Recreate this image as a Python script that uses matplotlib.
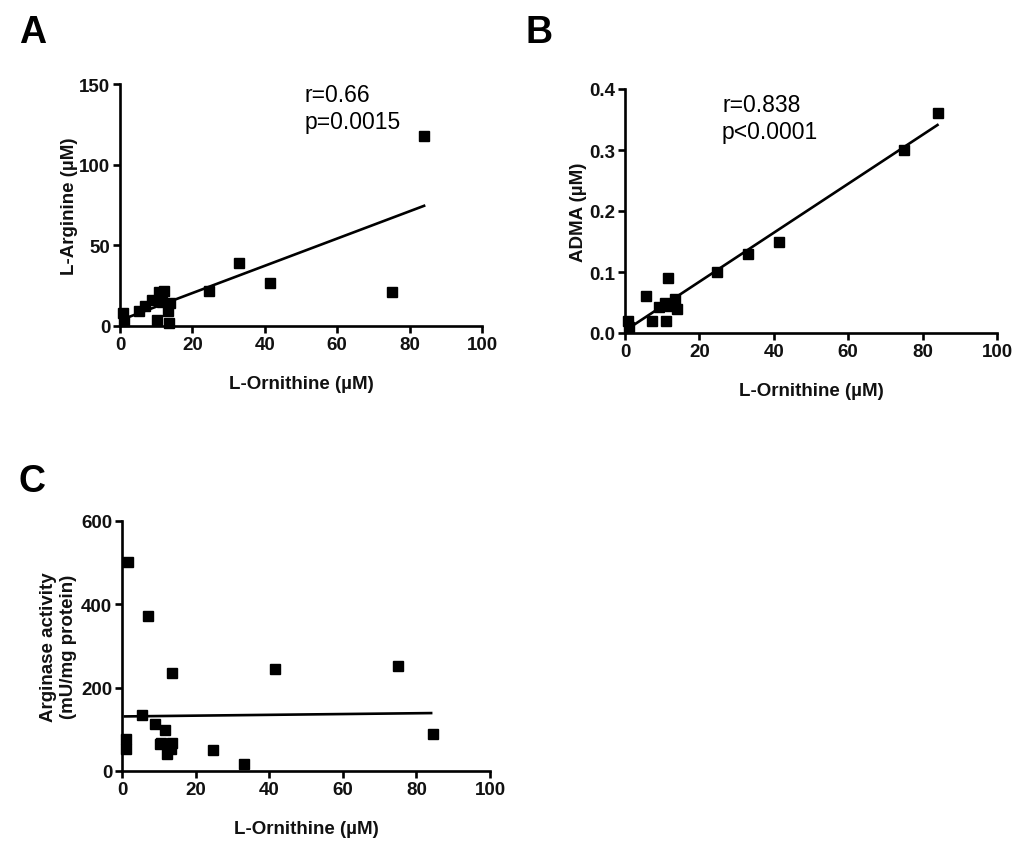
import matplotlib
matplotlib.use("Agg")
import matplotlib.pyplot as plt

plt.rcParams['font.family'] = ['Liberation Sans', 'DejaVu Sans']

# ---- Panel A data: L-Ornithine vs L-Arginine ----
a_orn = [0.8, 1.0, 5.3, 7.0, 8.8, 10.1, 10.9, 11.5, 12.2, 13.2, 13.5, 13.7, 24.5, 32.9, 41.4, 75.0, 84.0]
a_arg = [8.0, 3.0, 9.3, 12.4, 16.1, 3.7, 21.1, 15.0, 21.7, 9.3, 1.7, 14.5, 21.7, 38.9, 26.9, 21.0, 117.7]
a_fit_x = [0.8, 84.0]
a_fit_y = [4.2, 74.5]
a_text = "r=0.66\np=0.0015"

# ---- Panel B data: L-Ornithine vs ADMA ----
b_orn = [0.8, 1.2, 5.6, 7.2, 9.2, 10.7, 11.0, 11.6, 12.0, 13.4, 13.9, 24.6, 33.1, 41.4, 75.0, 84.1]
b_adma = [0.02, 0.01, 0.06, 0.02, 0.042, 0.05, 0.02, 0.09, 0.045, 0.056, 0.04, 0.10, 0.13, 0.15, 0.30, 0.36]
b_fit_x = [0.8, 84.0]
b_fit_y = [0.007, 0.341]
b_text = "r=0.838\np<0.0001"

# ---- Panel C data: L-Ornithine vs Arginase activity ----
c_orn = [1.6, 1.2, 1.2, 5.4, 7.2, 9.0, 10.2, 10.6, 11.7, 12.2, 13.4, 13.5, 13.7, 24.8, 33.1, 41.5, 75.0, 84.6]
c_arg = [502, 78, 54, 134, 373, 112, 64, 68, 98, 40, 52, 67, 235, 51, 16, 245, 252, 88]
c_fit_x = [0.8, 84.0]
c_fit_y = [131, 139]

x_ticks = [0, 20, 40, 60, 80, 100]

W, H = 1024, 854
fig = plt.figure(figsize=(W / 100, H / 100), dpi=100)
fig.patch.set_facecolor('white')

FS = 13.5


def make_axes(l, r, t, b):
    return fig.add_axes([l / W, 1 - b / H, (r - l) / W, (b - t) / H])


def style(ax, xlabel, ylabel, yticks, ylim, yfmt, ylpad):
    for s in ['top', 'right']:
        ax.spines[s].set_visible(False)
    for s in ['left', 'bottom']:
        ax.spines[s].set_linewidth(1.9)
        ax.spines[s].set_color('black')
    ax.set_xlim(0, 100)
    ax.set_ylim(*ylim)
    ax.set_xticks(x_ticks)
    ax.set_xticklabels([str(v) for v in x_ticks])
    ax.set_yticks(yticks)
    ax.set_yticklabels([yfmt(v) for v in yticks])
    ax.tick_params(axis='both', direction='out', length=5, width=1.9,
                   labelsize=FS, pad=2, labelcolor='#111111')
    for lab in ax.get_xticklabels() + ax.get_yticklabels():
        lab.set_fontweight('bold')
    ax.set_xlabel(xlabel, fontsize=FS, fontweight='bold', labelpad=16, color='#111111')
    ax.set_ylabel(ylabel, fontsize=FS, fontweight='bold', labelpad=ylpad, color='#111111')


# Panel A
axA = make_axes(120, 482, 85, 327)
axA.plot(a_orn, a_arg, 's', color='black', ms=7, clip_on=False, zorder=3)
axA.plot(a_fit_x, a_fit_y, '-', color='black', lw=1.9)
style(axA, 'L-Ornithine (µM)', 'L-Arginine (µM)', [0, 50, 100, 150], (0, 150),
      lambda v: str(int(v)), 0.5)
axA.text(305 / W, 1 - 84 / H, a_text, transform=fig.transFigure, fontsize=16.5,
         va='top', ha='left', linespacing=1.2)

# Panel B
axB = make_axes(625, 997, 90, 334)
axB.plot(b_orn, b_adma, 's', color='black', ms=7, clip_on=False, zorder=3)
axB.plot(b_fit_x, b_fit_y, '-', color='black', lw=1.9)
style(axB, 'L-Ornithine (µM)', 'ADMA (µM)', [0.0, 0.1, 0.2, 0.3, 0.4], (0, 0.4),
      lambda v: f"{v:.1f}", 1.5)
axB.text(722 / W, 1 - 94 / H, b_text, transform=fig.transFigure, fontsize=16.5,
         va='top', ha='left', linespacing=1.2)

# Panel C
axC = make_axes(122, 490, 522, 772)
axC.plot(c_orn, c_arg, 's', color='black', ms=7, clip_on=False, zorder=3)
axC.plot(c_fit_x, c_fit_y, '-', color='black', lw=1.9)
style(axC, 'L-Ornithine (µM)', 'Arginase activity\n(mU/mg protein)', [0, 200, 400, 600],
      (0, 600), lambda v: str(int(v)), 3)

# Panel letters
for letter, (x, y) in zip(['A', 'B', 'C'], [(19, 33), (525, 33), (19, 482)]):
    fig.text(x / W, 1 - y / H, letter, fontsize=27, fontweight='bold',
             va='center', ha='left')

fig.savefig('out.png', dpi=100, facecolor='white')
